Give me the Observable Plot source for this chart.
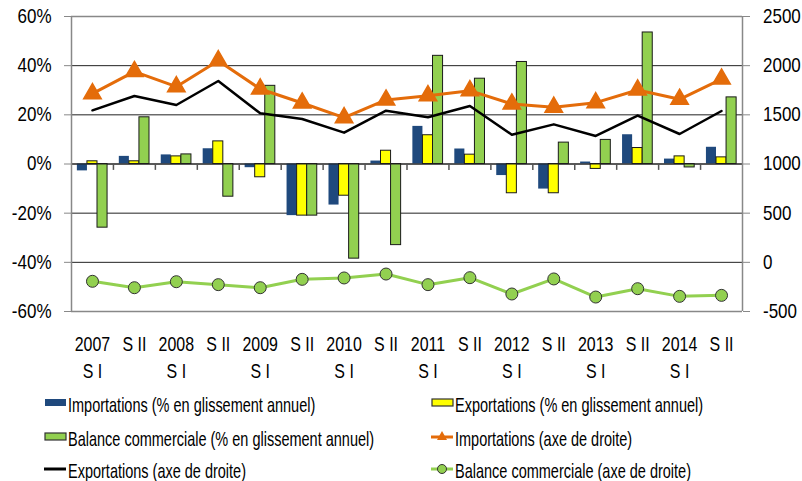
<!DOCTYPE html>
<html><head><meta charset="utf-8">
<script src="https://cdn.jsdelivr.net/npm/d3@7"></script>
<script src="https://cdn.jsdelivr.net/npm/@observablehq/plot@0.6"></script>
<style>
body{margin:0;background:#fff;font-family:"Liberation Sans",Arial,sans-serif;}
#chart{position:relative;width:802px;height:481px;overflow:hidden;background:#fff;}
#plot{position:absolute;left:0;top:0;}
.lg{position:absolute;display:flex;align-items:center;font-size:21px;color:#000;white-space:nowrap;height:22px;}
.lg svg{flex:none;}
.lg span{display:inline-block;transform:scaleX(0.69);transform-origin:0 50%;margin-left:1px;}
</style></head><body><div id="chart"><div id="plot"></div></div>
<script>
const periods = ["2007 S I","2007 S II","2008 S I","2008 S II","2009 S I","2009 S II","2010 S I","2010 S II","2011 S I","2011 S II","2012 S I","2012 S II","2013 S I","2013 S II","2014 S I","2014 S II"];
const topLabels = ["2007","S II","2008","S II","2009","S II","2010","S II","2011","S II","2012","S II","2013","S II","2014","S II"];
const bottomLabels = ["S I","","S I","","S I","","S I","","S I","","S I","","S I","","S I",""];
const importsPct = [-2.8, 3.1, 3.7, 6.2, -1.5, -21, -16.7, 1.2, 15.3, 6.1, -4.7, -10.2, 0.8, 11.9, 2.0, 6.8];
const exportsPct = [1.1, 1.1, 3.1, 9.2, -5.4, -21, -12.9, 5.4, 11.7, 3.8, -11.9, -11.9, -2.0, 6.5, 3.1, 2.7];
const balancePct = [-25.9, 19.0, 3.9, -13.3, 31.8, -21, -38.5, -33.0, 44.0, 34.7, 41.5, 8.7, 9.8, 53.5, -1.4, 27.1];
const importsVal = [1715, 1940, 1786, 2051, 1763, 1620, 1471, 1651, 1695, 1746, 1610, 1578, 1624, 1753, 1658, 1864];
const exportsVal = [1546, 1692, 1600, 1844, 1515, 1458, 1319, 1542, 1475, 1590, 1298, 1403, 1285, 1492, 1305, 1539];
const balanceVal = [-193, -258, -197, -227, -258, -173, -159, -119, -227, -156, -322, -169, -353, -268, -346, -336];
const leftTicks = [-60, -40, -20, 0, 20, 40, 60];
const rightTicks = [-500, 0, 500, 1000, 1500, 2000, 2500];

const C = {imp:"#1F497D", exp:"#FFFF00", bal:"#92D050", orange:"#E46C0A", black:"#000000", edge:"#1a1a1a"};
// right axis (-500..2500) mapped onto left axis (-60%..60%)
const r2l = v => (v - 1000) * 0.04;
const data = periods.map((p, i) => ({i, p, ip: importsPct[i], ep: exportsPct[i], bp: balancePct[i],
  iv: r2l(importsVal[i]), ev: r2l(exportsVal[i]), bv: r2l(balanceVal[i])}));
const bounds = d3.range(0.5, 15, 1);
const FONT = '"Liberation Sans",Arial,sans-serif';

const chart = Plot.plot({
  width: 802, height: 385,
  marginLeft: 71, marginRight: 60, marginTop: 16, marginBottom: 74,
  style: {fontFamily: FONT, fontSize: "20px", color: "#000", background: "transparent", overflow: "visible"},
  x: {type: "linear", domain: [-0.5, 15.5], axis: null},
  y: {domain: [-60, 60], axis: null},
  marks: [
    Plot.ruleY(leftTicks, {stroke: "#222", strokeWidth: 1}),
    Plot.ruleY([60, -60], {stroke: "#888", strokeWidth: 1.5}),
    Plot.rect(data, {x1: d => d.i - 0.36, x2: d => d.i - 0.12, y1: 0, y2: "ip", fill: C.imp}),
    Plot.rect(data, {x1: d => d.i - 0.12, x2: d => d.i + 0.12, y1: 0, y2: "ep", fill: C.exp, stroke: C.edge, strokeWidth: 1}),
    Plot.rect(data, {x1: d => d.i + 0.12, x2: d => d.i + 0.36, y1: 0, y2: "bp", fill: C.bal, stroke: C.edge, strokeWidth: 1}),
    Plot.ruleY([0], {stroke: "#222", strokeWidth: 1.2}),
    Plot.ruleX(bounds, {y1: 0, y2: -2.6, stroke: "#555", strokeWidth: 1.5}),
    Plot.ruleX([-0.5, 15.5], {stroke: "#888", strokeWidth: 1.5}),
    Plot.line(data, {x: "i", y: "iv", stroke: C.orange, strokeWidth: 3}),
    Plot.dot(data, {x: "i", y: "iv", symbol: "triangle", r: 6.5, fill: C.orange, stroke: C.orange}),
    Plot.line(data, {x: "i", y: "ev", stroke: C.black, strokeWidth: 2.5}),
    Plot.line(data, {x: "i", y: "bv", stroke: C.bal, strokeWidth: 3}),
    Plot.dot(data, {x: "i", y: "bv", r: 6, fill: C.bal, stroke: "#333", strokeWidth: 1}),
    Plot.axisY(leftTicks, {anchor: "left", tickSize: 7, tickPadding: 13, stroke: "#888", tickFormat: d => d + "%", fontSize: 20, label: null}),
    Plot.axisY(leftTicks, {anchor: "right", tickSize: 7, tickPadding: 13.5, stroke: "#888", tickFormat: (d, k) => String(rightTicks[k]), fontSize: 20, label: null}),
    Plot.axisX(d3.range(16), {anchor: "bottom", tickSize: 0, tickPadding: 21, lineHeight: 1.26, fontSize: 21, label: null,
      tickFormat: i => bottomLabels[i] ? topLabels[i] + "\n" + bottomLabels[i] : topLabels[i]})
  ]
});
document.getElementById("plot").appendChild(chart);
// condense axis label glyphs (narrow font look)
const squeeze = (sel, sx) => chart.querySelectorAll(sel).forEach(t =>
  t.setAttribute("transform", (t.getAttribute("transform") || "") + ` scale(${sx},1)`));
squeeze('g[aria-label="y-axis tick label"] text', 0.85);
squeeze('g[aria-label="x-axis tick label"] text', 0.76);

// legend
const legend = [
  {label: "Importations (% en glissement annuel)", kind: "box", fill: C.imp, stroke: "none", x: 44, y: 404.5},
  {label: "Exportations (% en glissement annuel)", kind: "box", fill: C.exp, stroke: "#333", x: 431, y: 404.5},
  {label: "Balance commerciale (% en glissement annuel)", kind: "box", fill: C.bal, stroke: "#333", x: 44, y: 439},
  {label: "Importations (axe de droite)", kind: "tri", fill: C.orange, stroke: C.orange, x: 431, y: 439},
  {label: "Exportations (axe de droite)", kind: "line", fill: C.black, stroke: C.black, x: 44, y: 470.5},
  {label: "Balance commerciale (axe de droite)", kind: "circ", fill: C.bal, stroke: C.bal, x: 431, y: 470.5}
];
const host = document.getElementById("chart");
for (const L of legend) {
  const div = document.createElement("div");
  div.className = "lg";
  div.style.left = L.x + "px";
  div.style.top = (L.y - 11) + "px";
  let sw = "";
  if (L.kind === "box") sw = `<rect x="1" y="5" width="21" height="7" fill="${L.fill}" stroke="${L.stroke}" stroke-width="1.2"/>`;
  else if (L.kind === "tri") sw = `<line x1="0" x2="22" y1="9" y2="9" stroke="${L.stroke}" stroke-width="3"/><path d="M11,3 L16,12 L6,12 Z" fill="${L.fill}"/>`;
  else if (L.kind === "line") sw = `<line x1="0" x2="22" y1="9" y2="9" stroke="${L.stroke}" stroke-width="3"/>`;
  else sw = `<line x1="0" x2="22" y1="9" y2="9" stroke="${L.stroke}" stroke-width="3"/><circle cx="11" cy="9" r="4.5" fill="${L.fill}" stroke="#333" stroke-width="1"/>`;
  div.innerHTML = `<svg width="23" height="22">${sw}</svg><span>${L.label}</span>`;
  host.appendChild(div);
}
</script></body></html>
